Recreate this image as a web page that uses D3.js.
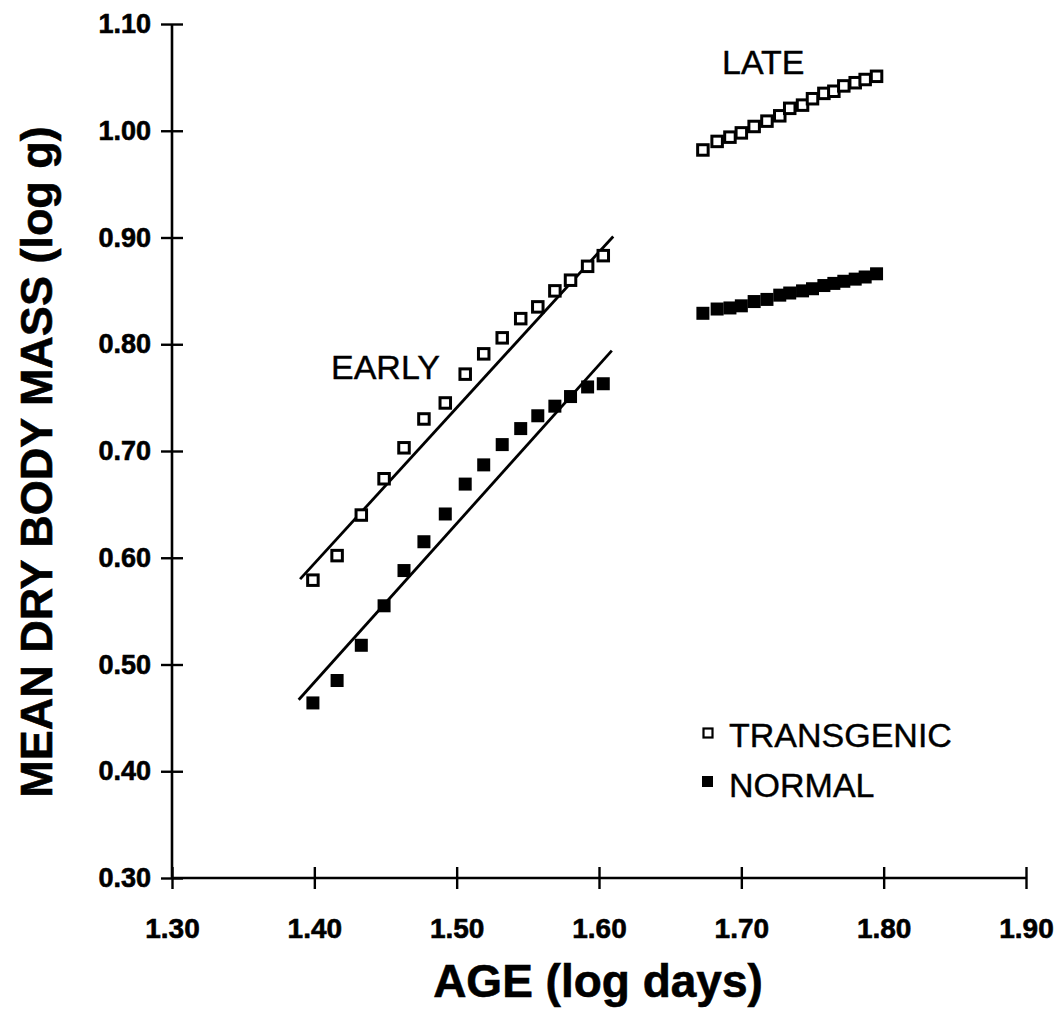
<!DOCTYPE html>
<html>
<head>
<meta charset="utf-8">
<script src="https://cdn.jsdelivr.net/npm/d3@7"></script>
<style>
  html, body { margin: 0; padding: 0; background: #fff; }
  svg { display: block; }
  text { font-family: "Liberation Sans", Arial, Helvetica, sans-serif; fill: #000; }
</style>
</head>
<body>
<svg id="chart" width="1063" height="1018"></svg>
<script>
// ---- data ----
const xTicks = [1.30, 1.40, 1.50, 1.60, 1.70, 1.80, 1.90];
const yTicks = [0.30, 0.40, 0.50, 0.60, 0.70, 0.80, 0.90, 1.00, 1.10];

const ageEarly = [1.399, 1.416, 1.433, 1.449, 1.463, 1.477, 1.492, 1.506, 1.519, 1.532, 1.545, 1.557, 1.569, 1.580, 1.592, 1.603];
const transEarly = [0.579, 0.602, 0.640, 0.674, 0.703, 0.730, 0.745, 0.772, 0.791, 0.806, 0.824, 0.835, 0.850, 0.860, 0.873, 0.883];
const normEarly = [0.464, 0.485, 0.518, 0.555, 0.588, 0.615, 0.641, 0.669, 0.687, 0.706, 0.721, 0.733, 0.742, 0.751, 0.760, 0.763];

const ageLate = [1.673, 1.683, 1.692, 1.700, 1.709, 1.718, 1.727, 1.734, 1.743, 1.750, 1.758, 1.765, 1.772, 1.780, 1.787, 1.795];
const transLate = [0.982, 0.990, 0.994, 0.998, 1.004, 1.009, 1.014, 1.021, 1.024, 1.030, 1.035, 1.037, 1.042, 1.045, 1.048, 1.051];
const normLate = [0.829, 0.833, 0.834, 0.836, 0.840, 0.842, 0.846, 0.848, 0.850, 0.852, 0.855, 0.857, 0.859, 0.861, 0.863, 0.866];

// early regression lines (endpoints)
const transFitX = [1.390, 1.610];
const transFitY = [0.580, 0.901];
const normFitX = [1.389, 1.609];
const normFitY = [0.467, 0.794];

const seriesNames = ["TRANSGENIC", "NORMAL"];

// ---- layout ----
const svg = d3.select("#chart");
const x = d3.scaleLinear().domain([1.30, 1.90]).range([172, 1026]);
const y = d3.scaleLinear().domain([0.30, 1.10]).range([878, 24]);
const fmt = d3.format(".2f");
const T = 11;

// x axis
const gx = svg.append("g").attr("transform", `translate(0,${y(0.30)})`)
  .call(d3.axisBottom(x).tickValues(xTicks).tickFormat(fmt).tickSize(T).tickSizeOuter(0).tickPadding(29));
gx.select(".domain").remove();
gx.append("line").attr("x1", x(1.30)).attr("x2", x(1.90)).attr("stroke", "#000").attr("stroke-width", 2.6);
gx.selectAll(".tick line").attr("y1", -T).attr("y2", T).attr("stroke", "#000").attr("stroke-width", 2.4);
gx.selectAll(".tick text").attr("font-size", 28).attr("font-weight", "bold")
  .attr("stroke", "#000").attr("stroke-width", 0.6)
  .style("font-family", '"Liberation Sans", Arial, sans-serif');

// y axis
const gy = svg.append("g").attr("transform", `translate(${x(1.30)},0)`)
  .call(d3.axisLeft(y).tickValues(yTicks).tickFormat(fmt).tickSize(T).tickSizeOuter(0).tickPadding(10));
gy.select(".domain").remove();
gy.append("line").attr("y1", y(0.30)).attr("y2", y(1.10)).attr("stroke", "#000").attr("stroke-width", 2.6);
gy.selectAll(".tick line").attr("x1", T).attr("x2", -T).attr("stroke", "#000").attr("stroke-width", 2.4);
gy.selectAll(".tick text").attr("font-size", 27).attr("font-weight", "bold")
  .attr("stroke", "#000").attr("stroke-width", 0.6)
  .style("font-family", '"Liberation Sans", Arial, sans-serif');

// regression lines
const line = d3.line().x(d => x(d[0])).y(d => y(d[1]));
svg.append("path").datum(d3.zip(transFitX, transFitY)).attr("d", line)
  .attr("fill", "none").attr("stroke", "#000").attr("stroke-width", 2.8);
svg.append("path").datum(d3.zip(normFitX, normFitY)).attr("d", line)
  .attr("fill", "none").attr("stroke", "#000").attr("stroke-width", 2.8);

// markers
const openS = 10.5, fillS = 13;
function openSquares(xs, ys) {
  svg.append("g").selectAll("rect").data(d3.zip(xs, ys)).join("rect")
    .attr("x", d => x(d[0]) - openS / 2).attr("y", d => y(d[1]) - openS / 2)
    .attr("width", openS).attr("height", openS)
    .attr("fill", "#fff").attr("stroke", "#000").attr("stroke-width", 3);
}
function filledSquares(xs, ys) {
  svg.append("g").selectAll("rect").data(d3.zip(xs, ys)).join("rect")
    .attr("x", d => x(d[0]) - fillS / 2).attr("y", d => y(d[1]) - fillS / 2)
    .attr("width", fillS).attr("height", fillS).attr("fill", "#000");
}
filledSquares(ageEarly, normEarly);
filledSquares(ageLate, normLate);
openSquares(ageEarly, transEarly);
openSquares(ageLate, transLate);

// annotations
svg.append("text").attr("x", 331).attr("y", 379).attr("font-size", 34)
  .attr("stroke", "#000").attr("stroke-width", 0.4).text("EARLY");
svg.append("text").attr("x", 722).attr("y", 74).attr("font-size", 34)
  .attr("stroke", "#000").attr("stroke-width", 0.4).text("LATE");

// legend
const leg = svg.append("g");
leg.append("rect").attr("x", 703.5).attr("y", 728.5).attr("width", 9).attr("height", 9)
  .attr("fill", "#fff").attr("stroke", "#000").attr("stroke-width", 2.2);
leg.append("rect").attr("x", 702).attr("y", 776).attr("width", 11).attr("height", 11).attr("fill", "#000");
leg.append("text").attr("x", 729).attr("y", 747).attr("font-size", 34)
  .attr("stroke", "#000").attr("stroke-width", 0.4).text(seriesNames[0]);
leg.append("text").attr("x", 729).attr("y", 797).attr("font-size", 34)
  .attr("stroke", "#000").attr("stroke-width", 0.4).text(seriesNames[1]);

// axis titles
svg.append("text").attr("transform", "translate(52,462) rotate(-90)")
  .attr("text-anchor", "middle").attr("font-size", 45).attr("font-weight", "bold")
  .attr("stroke", "#000").attr("stroke-width", 0.6)
  .text("MEAN DRY BODY MASS (log g)");
svg.append("text").attr("x", 598).attr("y", 997)
  .attr("text-anchor", "middle").attr("font-size", 46).attr("font-weight", "bold")
  .attr("stroke", "#000").attr("stroke-width", 0.6)
  .text("AGE (log days)");
</script>
</body>
</html>
